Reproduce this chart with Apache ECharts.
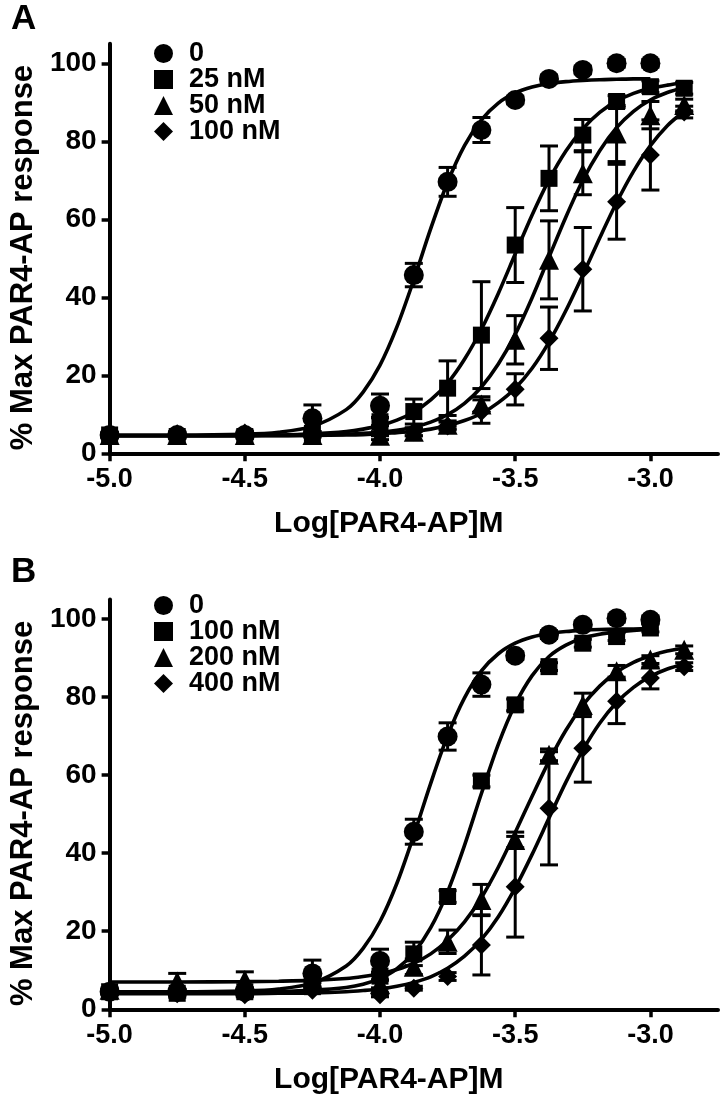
<!DOCTYPE html>
<html><head><meta charset="utf-8">
<script src="https://cdn.jsdelivr.net/npm/echarts@6/dist/echarts.min.js"></script>
<style>html,body{margin:0;padding:0;background:#fff}#c{width:726px;height:1104px}</style>
</head><body><div id="c"></div>
<script>
// ---------- data ----------
const xPoints = [-5.0,-4.75,-4.5,-4.25,-4.0,-3.875,-3.75,-3.625,-3.5,-3.375,-3.25,-3.125,-3.0,-2.875];
const xCurve = [-5.0,-4.75,-4.5,-4.375,-4.25,-4.125,-4.0625,-4.0,-3.9375,-3.875,-3.8125,-3.75,-3.6875,-3.625,-3.5625,-3.5,-3.4375,-3.375,-3.3125,-3.25,-3.1875,-3.125,-3.0625,-3.0,-2.9375,-2.875];
const xTickValues = [-5.0,-4.5,-4.0,-3.5,-3.0];
const yTickValues = [0,20,40,60,80,100];
const xAxisTitle = 'Log[PAR4-AP]M';
const yAxisTitle = '% Max PAR4-AP response';
const panelLabels = ['A','B'];
const namesA = ['0','25 nM','50 nM','100 nM'];
const namesB = ['0','100 nM','200 nM','400 nM'];

// Panel A: means and SEM
const a0Mean   = [4.7,4.7,4.7,9.0,12.2,45.7,69.6,82.9,90.6,96.0,98.3,100,100];
const a0Sem    = [0.5,0.5,0.5,3.4,3.0,3.0,3.7,3.2,1,1,1,1,1];
const a25Mean  = [4.7,4.3,4.3,5.1,8.1,10.7,16.7,30.3,53.4,70.5,81.6,90.2,94.0,93.6];
const a25Sem   = [0.5,0.5,0.5,0.5,1,3.2,7,13.7,9.6,8.3,4,1.5,1.5,1.5];
const a50Mean  = [4.7,4.7,4.7,4.7,4.5,5.5,7.3,12.5,29.1,49.6,71.8,82.0,86.7,89.3];
const a50Sem   = [0.5,0.5,0.5,0.5,1,1,1,2,6.2,10,5.5,7.2,3.5,1.5];
const a100Mean = [4.7,5.0,5.2,4.7,5.0,5.5,7.0,10.7,16.4,29.5,47.2,64.5,76.5,87.5];
const a100Sem  = [0.5,0.5,0.5,0.5,0.5,1,1,3,4,8,10.7,9.6,9,1.5];
// Panel A fitted curves (read at xCurve)
const a0Curve   = [4.7,4.7,4.9,5.4,6.9,11.2,15.7,22.6,32.4,44.5,57.6,69.5,78.9,85.5,89.8,92.4,93.9,94.8,95.3,95.6,95.8,95.9,96.0,96.0];
const a25Curve  = [4.5,4.5,4.6,4.7,5.0,5.6,6.2,7.1,8.5,10.6,13.7,18.0,24.1,31.8,41.0,51.1,61.1,70.1,77.5,83.2,87.4,90.3,92.3,93.6,94.4,95.0];
const a50Curve  = [4.5,4.5,4.5,4.6,4.6,4.9,5.1,5.4,5.9,6.7,8.0,9.9,12.8,17.0,22.9,30.5,39.9,50.3,60.6,70.0,77.6,83.5,87.7,90.6,92.5,93.8];
const a100Curve = [4.5,4.5,4.5,4.5,4.6,4.7,4.8,5.0,5.3,5.6,6.2,7.1,8.4,10.2,13.0,16.7,21.8,28.5,36.6,45.7,55.2,64.3,72.3,78.9,84.0,87.7];

// Panel B: means and SEM
const b0Mean   = [4.5,4.5,4.5,9.2,12.4,45.5,69.9,83.2,90.6,96.0,98.5,100.2,99.8];
const b0Sem    = [0.5,0.5,0.5,3.4,3.0,3.2,3.5,3.0,1,1,1,1,1];
const b100Mean = [4.5,4.1,4.5,5.8,8.5,14.2,28.9,58.5,78.0,87.8,93.8,95.5,97.7];
const b100Sem  = [0.5,1,1,1,1,3,1.5,1.5,1.5,1,1,1,1];
const b200Mean = [5.0,7.1,7.5,6.5,6.5,10.9,17.3,28.0,43.4,65.2,78.0,86.6,89.6,92.1];
const b200Sem  = [0.5,2.1,2.1,1,1,2,3,4,2,1.5,3,1.5,1,1];
const b400Mean = [4.5,4.0,3.7,4.9,3.7,5.4,8.4,16.5,31.4,51.5,66.9,78.9,84.9,87.8];
const b400Sem  = [0.5,0.5,0.5,0.5,0.5,0.5,1,7.7,12.9,14.5,8.7,5.7,2.8,1];
// Panel B fitted curves (read at xCurve)
const b0Curve   = [4.5,4.5,4.7,5.2,6.7,11.1,15.6,22.5,32.3,44.6,57.9,70.1,79.8,86.7,91.1,93.8,95.4,96.3,96.8,97.1,97.3,97.4,97.45,97.5];
const b100Curve = [4.5,4.5,4.5,4.6,4.9,5.6,6.4,7.9,10.4,14.5,20.9,30.1,42.0,55.3,67.9,78.1,85.5,90.4,93.3,95.1,96.1,96.7,97.1,97.3];
const b200Curve = [7.0,7.0,7.1,7.2,7.4,7.9,8.4,9.1,10.2,11.8,14.2,17.7,22.4,28.6,36.4,45.3,54.6,63.6,71.5,77.9,82.8,86.4,88.9,90.6,91.8,92.5];
const b400Curve = [4.0,4.0,4.0,4.1,4.2,4.5,4.8,5.2,5.9,6.9,8.3,10.5,13.6,17.9,23.7,31.1,39.7,49.0,58.2,66.4,73.3,78.6,82.5,85.3,87.2,88.5];

// ---------- chart ----------
const FONT = 'Liberation Sans, Arial, Helvetica, sans-serif';
const symbols = ['circle','rect','triangle','diamond'];
const symSizes = [20,17,20,19];

const panels = [
  {names: namesA, means: [a0Mean,a25Mean,a50Mean,a100Mean], sems: [a0Sem,a25Sem,a50Sem,a100Sem], curves: [a0Curve,a25Curve,a50Curve,a100Curve]},
  {names: namesB, means: [b0Mean,b100Mean,b200Mean,b400Mean], sems: [b0Sem,b100Sem,b200Sem,b400Sem], curves: [b0Curve,b100Curve,b200Curve,b400Curve]}
];

const series = [];
panels.forEach((p, pi) => {
  p.curves.forEach((c, si) => {
    series.push({
      type: 'line', name: 'fit ' + p.names[si] + ' ' + pi, xAxisIndex: pi, yAxisIndex: pi,
      data: c.map((v, i) => [xCurve[i], v]),
      smooth: 0.3, showSymbol: false, silent: true, z: 2,
      lineStyle: {color: '#000', width: 3.6}
    });
  });
  p.means.forEach((m, si) => {
    series.push({
      type: 'custom', name: 'err ' + p.names[si] + ' ' + pi, xAxisIndex: pi, yAxisIndex: pi, z: 3, silent: true,
      data: m.map((v, i) => [xPoints[i], v, p.sems[si][i]]),
      renderItem: function (params, api) {
        const x = api.value(0), y = api.value(1), e = api.value(2);
        const t = api.coord([x, y + e]), b = api.coord([x, y - e]);
        const hw = 9;
        const st = {stroke: '#000', lineWidth: 3};
        return {type: 'group', children: [
          {type: 'line', shape: {x1: t[0], y1: t[1], x2: b[0], y2: b[1]}, style: st},
          {type: 'line', shape: {x1: t[0] - hw, y1: t[1], x2: t[0] + hw, y2: t[1]}, style: st},
          {type: 'line', shape: {x1: b[0] - hw, y1: b[1], x2: b[0] + hw, y2: b[1]}, style: st}
        ]};
      }
    });
    series.push({
      type: 'scatter', name: p.names[si], xAxisIndex: pi, yAxisIndex: pi, z: 4,
      symbol: symbols[si], symbolSize: symSizes[si],
      itemStyle: {color: '#000', opacity: 1},
      data: m.map((v, i) => [xPoints[i], v])
    });
  });
});

const grids = [
  {left: 102, width: 616, top: 43.8, height: 409.5},
  {left: 102, width: 616, top: 599.5, height: 409.8}
];

const xAxes = grids.map((g, i) => ({
  type: 'value', gridIndex: i, min: -5, max: -2.75, interval: 0.5,
  axisLine: {show: true, onZero: false, lineStyle: {color: '#000', width: 4}},
  axisTick: {show: true, length: 8, lineStyle: {color: '#000', width: 3.5}, customValues: xTickValues},
  axisLabel: {customValues: xTickValues, formatter: v => v.toFixed(1), color: '#000', fontSize: 27, fontWeight: 'bold', fontFamily: FONT, margin: 13},
  splitLine: {show: false},
  name: xAxisTitle, nameLocation: 'middle', nameGap: 55,
  nameTextStyle: {color: '#000', fontSize: 30, fontWeight: 'bold', fontFamily: FONT, padding: [0, 50, 0, 0]}
}));

const yAxes = grids.map((g, i) => ({
  type: 'value', gridIndex: i, min: 0, max: 105, interval: 20,
  axisLine: {show: true, onZero: false, lineStyle: {color: '#000', width: 4}},
  axisTick: {show: true, length: 8, lineStyle: {color: '#000', width: 3.5}, customValues: yTickValues},
  axisLabel: {customValues: yTickValues, color: '#000', fontSize: 28, fontWeight: 'bold', fontFamily: FONT, margin: 13},
  splitLine: {show: false},
  name: yAxisTitle, nameLocation: 'middle', nameGap: 65, nameRotate: 90,
  nameTextStyle: {color: '#000', fontSize: 31, fontWeight: 'bold', fontFamily: FONT, padding: [0, 18, 0, 0]}
}));

const legendStyle = (top, names) => ({
  orient: 'vertical', left: 149, top: top, itemWidth: 19, itemHeight: 19, itemGap: -1,
  selectedMode: false,
  data: names.map((n, i) => ({name: n, icon: symbols[i]})),
  itemStyle: {color: '#000'},
  textStyle: {color: '#000', fontSize: 27, fontWeight: 'bold', fontFamily: FONT, padding: [0, 0, 0, 11]}
});

const option = {
  backgroundColor: '#fff',
  animation: false,
  title: [
    {text: panelLabels[0], left: 6, top: -3, textStyle: {color: '#000', fontSize: 35, fontWeight: 'bold', fontFamily: FONT}},
    {text: panelLabels[1], left: 6, top: 550, textStyle: {color: '#000', fontSize: 35, fontWeight: 'bold', fontFamily: FONT}}
  ],
  legend: [legendStyle(35, namesA), legendStyle(587, namesB)],
  grid: grids,
  xAxis: xAxes,
  yAxis: yAxes,
  series: series
};

const chart = echarts.init(document.getElementById('c'), null, {renderer: 'canvas'});
chart.setOption(option);
</script>
</body></html>
